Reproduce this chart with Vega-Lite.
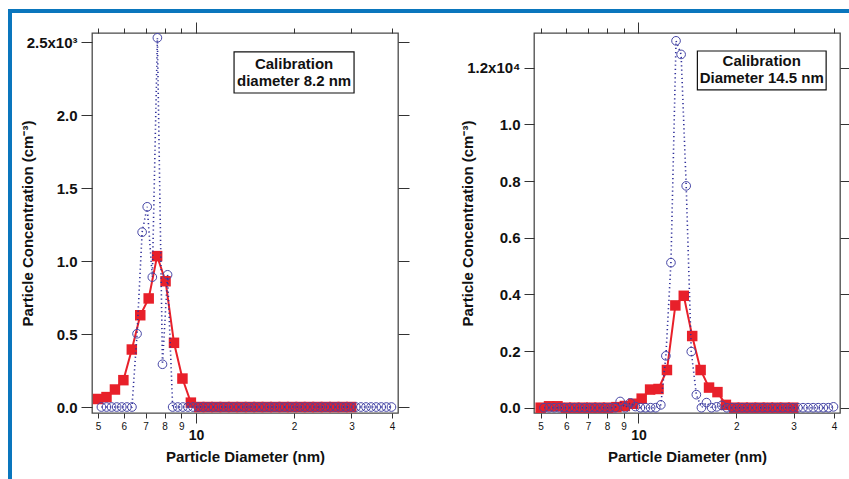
{
  "$schema": "https://vega.github.io/schema/vega-lite/v6.json",
  "padding": {"left": 8, "top": 9, "right": 0, "bottom": 0},
  "background": "white",
  "config": {
    "view": {"stroke": "#4a4a4a", "strokeWidth": 1.3},
    "font": "Liberation Sans",
    "axis": {"grid": false, "domain": false, "tickColor": "#333333", "labelColor": "#111111", "titleColor": "#111111", "labelFont": "Liberation Sans", "titleFont": "Liberation Sans"}
  },
  "datasets": {
    "redL": [
      {"d": 5.000, "c": 55}, {"d": 5.307, "c": 68}, {"d": 5.634, "c": 120}, {"d": 5.980, "c": 184},
      {"d": 6.348, "c": 394}, {"d": 6.738, "c": 629}, {"d": 7.152, "c": 744}, {"d": 7.592, "c": 1034},
      {"d": 8.058, "c": 862}, {"d": 8.554, "c": 440}, {"d": 9.080, "c": 195}, {"d": 9.638, "c": 30},
      {"d": 10.230, "c": 0}, {"d": 10.859, "c": 0}, {"d": 11.526, "c": 0}, {"d": 12.235, "c": 0},
      {"d": 12.987, "c": 0}, {"d": 13.785, "c": 0}, {"d": 14.633, "c": 0}, {"d": 15.532, "c": 0},
      {"d": 16.487, "c": 0}, {"d": 17.501, "c": 0}, {"d": 18.577, "c": 0}, {"d": 19.719, "c": 0},
      {"d": 20.931, "c": 0}, {"d": 22.218, "c": 0}, {"d": 23.584, "c": 0}, {"d": 25.034, "c": 0},
      {"d": 26.573, "c": 0}, {"d": 28.206, "c": 0}, {"d": 29.940, "c": 0}
    ],
    "blueL": [
      {"d": 5.120, "c": 0}, {"d": 5.308, "c": 0}, {"d": 5.502, "c": 0}, {"d": 5.704, "c": 0},
      {"d": 5.913, "c": 0}, {"d": 6.130, "c": 0}, {"d": 6.354, "c": 0}, {"d": 6.587, "c": 502},
      {"d": 6.828, "c": 1198}, {"d": 7.078, "c": 1372}, {"d": 7.338, "c": 890}, {"d": 7.606, "c": 2530},
      {"d": 7.885, "c": 293}, {"d": 8.174, "c": 906}, {"d": 8.473, "c": 0}, {"d": 8.784, "c": 0},
      {"d": 9.106, "c": 0}, {"d": 9.439, "c": 0}, {"d": 9.785, "c": 0}, {"d": 10.143, "c": 0},
      {"d": 10.515, "c": 0}, {"d": 10.900, "c": 0}, {"d": 11.300, "c": 0}, {"d": 11.714, "c": 0},
      {"d": 12.143, "c": 0}, {"d": 12.588, "c": 0}, {"d": 13.049, "c": 0}, {"d": 13.527, "c": 0},
      {"d": 14.023, "c": 0}, {"d": 14.537, "c": 0}, {"d": 15.069, "c": 0}, {"d": 15.621, "c": 0},
      {"d": 16.194, "c": 0}, {"d": 16.787, "c": 0}, {"d": 17.402, "c": 0}, {"d": 18.040, "c": 0},
      {"d": 18.701, "c": 0}, {"d": 19.386, "c": 0}, {"d": 20.096, "c": 0}, {"d": 20.833, "c": 0},
      {"d": 21.596, "c": 0}, {"d": 22.387, "c": 0}, {"d": 23.207, "c": 0}, {"d": 24.058, "c": 0},
      {"d": 24.939, "c": 0}, {"d": 25.853, "c": 0}, {"d": 26.800, "c": 0}, {"d": 27.782, "c": 0},
      {"d": 28.800, "c": 0}, {"d": 29.855, "c": 0}, {"d": 30.949, "c": 0}, {"d": 32.083, "c": 0},
      {"d": 33.259, "c": 0}, {"d": 34.477, "c": 0}, {"d": 35.740, "c": 0}, {"d": 37.050, "c": 0},
      {"d": 38.408, "c": 0}, {"d": 39.815, "c": 0}
    ],
    "redR": [
      {"d": 5.000, "c": 0}, {"d": 5.307, "c": 50}, {"d": 5.634, "c": 50}, {"d": 5.980, "c": 0},
      {"d": 6.348, "c": 0}, {"d": 6.738, "c": 0}, {"d": 7.152, "c": 0}, {"d": 7.592, "c": 0},
      {"d": 8.058, "c": 0}, {"d": 8.554, "c": 20}, {"d": 9.080, "c": 60}, {"d": 9.638, "c": 140},
      {"d": 10.230, "c": 320}, {"d": 10.859, "c": 640}, {"d": 11.526, "c": 660}, {"d": 12.235, "c": 1330},
      {"d": 12.987, "c": 3610}, {"d": 13.785, "c": 3950}, {"d": 14.633, "c": 2530}, {"d": 15.532, "c": 1330},
      {"d": 16.487, "c": 710}, {"d": 17.501, "c": 550}, {"d": 18.577, "c": 100}, {"d": 19.719, "c": 0},
      {"d": 20.931, "c": 0}, {"d": 22.218, "c": 0}, {"d": 23.584, "c": 0}, {"d": 25.034, "c": 0},
      {"d": 26.573, "c": 0}, {"d": 28.206, "c": 0}, {"d": 29.940, "c": 0}
    ],
    "blueR": [
      {"d": 5.120, "c": 0}, {"d": 5.308, "c": 0}, {"d": 5.502, "c": 0}, {"d": 5.704, "c": 0},
      {"d": 5.913, "c": 0}, {"d": 6.130, "c": 0}, {"d": 6.354, "c": 0}, {"d": 6.587, "c": 0},
      {"d": 6.828, "c": 0}, {"d": 7.078, "c": 0}, {"d": 7.338, "c": 0}, {"d": 7.606, "c": 0},
      {"d": 7.885, "c": 0}, {"d": 8.174, "c": 0}, {"d": 8.473, "c": 0}, {"d": 8.784, "c": 220},
      {"d": 9.106, "c": 0}, {"d": 9.439, "c": 170}, {"d": 9.785, "c": 40}, {"d": 10.143, "c": 0},
      {"d": 10.515, "c": 0}, {"d": 10.900, "c": 0}, {"d": 11.300, "c": 0}, {"d": 11.714, "c": 100},
      {"d": 12.143, "c": 1830}, {"d": 12.588, "c": 5120}, {"d": 13.049, "c": 12950}, {"d": 13.527, "c": 12470},
      {"d": 14.023, "c": 7830}, {"d": 14.537, "c": 1980}, {"d": 15.069, "c": 460}, {"d": 15.621, "c": 0},
      {"d": 16.194, "c": 180}, {"d": 16.787, "c": 0}, {"d": 17.402, "c": 30}, {"d": 18.040, "c": 80},
      {"d": 18.701, "c": 0}, {"d": 19.386, "c": 0}, {"d": 20.096, "c": 0}, {"d": 20.833, "c": 0},
      {"d": 21.596, "c": 0}, {"d": 22.387, "c": 0}, {"d": 23.207, "c": 0}, {"d": 24.058, "c": 0},
      {"d": 24.939, "c": 0}, {"d": 25.853, "c": 0}, {"d": 26.800, "c": 0}, {"d": 27.782, "c": 0},
      {"d": 28.800, "c": 0}, {"d": 29.855, "c": 0}, {"d": 30.949, "c": 0}, {"d": 32.083, "c": 0},
      {"d": 33.259, "c": 0}, {"d": 34.477, "c": 0}, {"d": 35.740, "c": 0}, {"d": 37.050, "c": 0},
      {"d": 38.408, "c": 0}, {"d": 39.815, "c": 30}
    ],
    "boxL": [{"x1": 13.08, "x2": 30.56, "y1": 2433, "y2": 2152, "xt": 20.0, "yt": 2293, "label": "Calibration\ndiameter 8.2 nm"}],
    "boxR": [{"x1": 15.18, "x2": 37.8, "y1": 12591, "y2": 11215, "xt": 23.95, "yt": 11938, "label": "Calibration\nDiameter 14.5 nm"}]
  },
  "spacing": 0,
  "bounds": "flush",
  "hconcat": [
    {"data": {"values": []}, "mark": "point", "width": 4, "height": 470, "view": {"fill": "#0a76bd", "stroke": null}},
    {
      "spacing": 20,
      "bounds": "flush",
      "vconcat": [
        {"data": {"values": []}, "mark": "point", "width": 837, "height": 4, "view": {"fill": "#0a76bd", "stroke": null}},
        {
          "spacing": 0,
          "bounds": "flush",
          "hconcat": [
            {"data": {"values": []}, "mark": "point", "width": 80, "height": 10, "view": {"stroke": null}},
            {
              "spacing": 136,
              "bounds": "flush",
              "hconcat": [
                {
                  "width": 306, "height": 380,
                  "resolve": {"axis": {"x": "independent", "y": "independent"}},
                  "layer": [
                    {"data": {"name": "redL"}, "mark": {"type": "line", "color": "#e8202a", "strokeWidth": 2},
                     "encoding": {
                       "x": {"field": "d", "type": "quantitative", "scale": {"type": "log", "domain": [4.79, 41.7], "nice": false},
                             "axis": {"orient": "bottom", "values": [5, 6, 7, 8, 9, 10, 20, 30, 40],
                                      "labelExpr": "datum.value == 10 ? '10' : datum.value >= 20 ? format(datum.value / 10, 'd') : format(datum.value, 'd')",
                                      "labelFontSize": {"condition": {"test": "datum.value == 10", "value": 14}, "value": 10},
                                      "labelFontWeight": {"condition": {"test": "datum.value == 10", "value": "bold"}, "value": "normal"},
                                      "labelPadding": {"condition": {"test": "datum.value == 10", "value": 5}, "value": 3},
                                      "tickSize": {"condition": {"test": "datum.value == 10", "value": 10}, "value": 5},
                                      "labelFlush": false, "labelOverlap": false,
                                      "title": "Particle Diameter (nm)", "titleFontSize": 15, "titleFontWeight": "bold", "titlePadding": 7}},
                       "y": {"field": "c", "type": "quantitative", "scale": {"domain": [-41, 2563], "nice": false, "zero": false},
                             "axis": {"orient": "left", "values": [0, 500, 1000, 1500, 2000, 2500],
                                      "labelExpr": "datum.value == 2500 ? '2.5x10³' : format(datum.value / 1000, '.1f')",
                                      "labelFontSize": 15, "labelFontWeight": "bold", "tickSize": 11, "labelPadding": 4,
                                      "title": "Particle Concentration (cm⁻³)", "titleFontSize": 15, "titleFontWeight": "bold", "titlePadding": -9}}
                     }},
                    {"data": {"name": "redL"}, "mark": {"type": "point", "shape": "square", "filled": true, "color": "#e8202a", "size": 110, "opacity": 1},
                     "encoding": {
                       "x": {"field": "d", "type": "quantitative", "scale": {"type": "log", "domain": [4.79, 41.7], "nice": false}, "axis": null},
                       "y": {"field": "c", "type": "quantitative", "scale": {"domain": [-41, 2563], "nice": false, "zero": false}, "axis": null}
                     }},
                    {"data": {"name": "blueL"}, "mark": {"type": "line", "color": "#30309a", "strokeWidth": 1.6, "strokeDash": [1.2, 3]},
                     "encoding": {
                       "x": {"field": "d", "type": "quantitative", "scale": {"type": "log", "domain": [4.79, 41.7], "nice": false},
                             "axis": {"orient": "top", "values": [5, 6, 7, 8, 9, 10, 20, 30, 40], "labels": false, "title": null,
                                      "tickSize": {"condition": {"test": "datum.value == 10", "value": 11}, "value": 5}}},
                       "y": {"field": "c", "type": "quantitative", "scale": {"domain": [-41, 2563], "nice": false, "zero": false},
                             "axis": {"orient": "right", "values": [0, 500, 1000, 1500, 2000, 2500], "labels": false, "title": null, "tickSize": 11}}
                     }},
                    {"data": {"name": "blueL"}, "mark": {"type": "point", "shape": "circle", "filled": false, "color": "#4646a6", "size": 75, "strokeWidth": 1, "opacity": 1},
                     "encoding": {
                       "x": {"field": "d", "type": "quantitative", "scale": {"type": "log", "domain": [4.79, 41.7], "nice": false}, "axis": null},
                       "y": {"field": "c", "type": "quantitative", "scale": {"domain": [-41, 2563], "nice": false, "zero": false}, "axis": null}
                     }},
                    {"data": {"name": "boxL"}, "mark": {"type": "rect", "fill": "white", "stroke": "#111111", "strokeWidth": 1.2},
                     "encoding": {
                       "x": {"field": "x1", "type": "quantitative", "scale": {"type": "log", "domain": [4.79, 41.7], "nice": false}, "axis": null},
                       "x2": {"field": "x2"},
                       "y": {"field": "y1", "type": "quantitative", "scale": {"domain": [-41, 2563], "nice": false, "zero": false}, "axis": null},
                       "y2": {"field": "y2"}
                     }},
                    {"data": {"name": "boxL"}, "mark": {"type": "text", "fontSize": 15, "fontWeight": "bold", "color": "#111111", "lineBreak": "\n", "lineHeight": 17, "align": "center", "baseline": "middle", "dy": -8.5},
                     "encoding": {
                       "x": {"field": "xt", "type": "quantitative", "scale": {"type": "log", "domain": [4.79, 41.7], "nice": false}, "axis": null},
                       "y": {"field": "yt", "type": "quantitative", "scale": {"domain": [-41, 2563], "nice": false, "zero": false}, "axis": null},
                       "text": {"field": "label"}
                     }}
                  ]
                },
                {
                  "width": 306, "height": 380,
                  "resolve": {"axis": {"x": "independent", "y": "independent"}},
                  "layer": [
                    {"data": {"name": "redR"}, "mark": {"type": "line", "color": "#e8202a", "strokeWidth": 2},
                     "encoding": {
                       "x": {"field": "d", "type": "quantitative", "scale": {"type": "log", "domain": [4.77, 41.7], "nice": false},
                             "axis": {"orient": "bottom", "values": [5, 6, 7, 8, 9, 10, 20, 30, 40],
                                      "labelExpr": "datum.value == 10 ? '10' : datum.value >= 20 ? format(datum.value / 10, 'd') : format(datum.value, 'd')",
                                      "labelFontSize": {"condition": {"test": "datum.value == 10", "value": 14}, "value": 10},
                                      "labelFontWeight": {"condition": {"test": "datum.value == 10", "value": "bold"}, "value": "normal"},
                                      "labelPadding": {"condition": {"test": "datum.value == 10", "value": 5}, "value": 3},
                                      "tickSize": {"condition": {"test": "datum.value == 10", "value": 10}, "value": 5},
                                      "labelFlush": false, "labelOverlap": false,
                                      "title": "Particle Diameter (nm)", "titleFontSize": 15, "titleFontWeight": "bold", "titlePadding": 7}},
                       "y": {"field": "c", "type": "quantitative", "scale": {"domain": [-187, 13226], "nice": false, "zero": false},
                             "axis": {"orient": "left", "values": [0, 2000, 4000, 6000, 8000, 10000, 12000],
                                      "labelExpr": "datum.value == 12000 ? '1.2x10⁴' : format(datum.value / 10000, '.1f')",
                                      "labelFontSize": 15, "labelFontWeight": "bold", "tickSize": 10, "labelPadding": 4,
                                      "title": "Particle Concentration (cm⁻³)", "titleFontSize": 15, "titleFontWeight": "bold", "titlePadding": -9}}
                     }},
                    {"data": {"name": "redR"}, "mark": {"type": "point", "shape": "square", "filled": true, "color": "#e8202a", "size": 110, "opacity": 1},
                     "encoding": {
                       "x": {"field": "d", "type": "quantitative", "scale": {"type": "log", "domain": [4.77, 41.7], "nice": false}, "axis": null},
                       "y": {"field": "c", "type": "quantitative", "scale": {"domain": [-187, 13226], "nice": false, "zero": false}, "axis": null}
                     }},
                    {"data": {"name": "blueR"}, "mark": {"type": "line", "color": "#30309a", "strokeWidth": 1.6, "strokeDash": [1.2, 3]},
                     "encoding": {
                       "x": {"field": "d", "type": "quantitative", "scale": {"type": "log", "domain": [4.77, 41.7], "nice": false},
                             "axis": {"orient": "top", "values": [5, 6, 7, 8, 9, 10, 20, 30, 40], "labels": false, "title": null,
                                      "tickSize": {"condition": {"test": "datum.value == 10", "value": 11}, "value": 5}}},
                       "y": {"field": "c", "type": "quantitative", "scale": {"domain": [-187, 13226], "nice": false, "zero": false},
                             "axis": {"orient": "right", "values": [0, 2000, 4000, 6000, 8000, 10000, 12000], "labels": false, "title": null, "tickSize": 10}}
                     }},
                    {"data": {"name": "blueR"}, "mark": {"type": "point", "shape": "circle", "filled": false, "color": "#4646a6", "size": 75, "strokeWidth": 1, "opacity": 1},
                     "encoding": {
                       "x": {"field": "d", "type": "quantitative", "scale": {"type": "log", "domain": [4.77, 41.7], "nice": false}, "axis": null},
                       "y": {"field": "c", "type": "quantitative", "scale": {"domain": [-187, 13226], "nice": false, "zero": false}, "axis": null}
                     }},
                    {"data": {"name": "boxR"}, "mark": {"type": "rect", "fill": "white", "stroke": "#111111", "strokeWidth": 1.2},
                     "encoding": {
                       "x": {"field": "x1", "type": "quantitative", "scale": {"type": "log", "domain": [4.77, 41.7], "nice": false}, "axis": null},
                       "x2": {"field": "x2"},
                       "y": {"field": "y1", "type": "quantitative", "scale": {"domain": [-187, 13226], "nice": false, "zero": false}, "axis": null},
                       "y2": {"field": "y2"}
                     }},
                    {"data": {"name": "boxR"}, "mark": {"type": "text", "fontSize": 15, "fontWeight": "bold", "color": "#111111", "lineBreak": "\n", "lineHeight": 17, "align": "center", "baseline": "middle", "dy": -8.5},
                     "encoding": {
                       "x": {"field": "xt", "type": "quantitative", "scale": {"type": "log", "domain": [4.77, 41.7], "nice": false}, "axis": null},
                       "y": {"field": "yt", "type": "quantitative", "scale": {"domain": [-187, 13226], "nice": false, "zero": false}, "axis": null},
                       "text": {"field": "label"}
                     }}
                  ]
                }
              ]
            }
          ]
        }
      ]
    }
  ]
}
